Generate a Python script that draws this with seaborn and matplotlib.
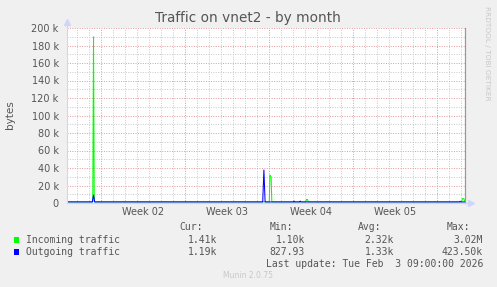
import matplotlib
matplotlib.use("Agg")
import matplotlib.pyplot as plt
import seaborn as sns
import pandas as pd
from matplotlib.patches import Rectangle
from matplotlib.transforms import blended_transform_factory

# ---- data (x = days since Mon 2026-01-05 00:00) ----
incoming_days = [-2.81, -0.66, -0.60, -0.54, 14.05, 14.10, 14.20, 14.26,
                 17.10, 17.14, 17.24, 17.28, 30.08, 30.14, 30.26, 30.36]
incoming_vals = [1400, 1400, 190000, 1400, 1400, 32000, 30000, 1400,
                 1400, 4000, 4000, 1400, 1400, 5000, 5000, 1410]
outgoing_days = [-2.81, -0.70, -0.60, -0.50, 13.50, 13.60, 13.70,
                 16.08, 16.12, 16.16, 16.58, 16.62, 16.66, 29.90, 29.95, 30.00, 30.36]
outgoing_vals = [1200, 1200, 9000, 1200, 1200, 37700, 1200,
                 1200, 2200, 1200, 1200, 2200, 1200, 1200, 2000, 1200, 1190]

series_names = ["Incoming traffic", "Outgoing traffic"]
series_colors = ["#00FF00", "#0000FF"]
cur_vals = ["1.41k", "1.19k"]
min_vals = ["1.10k", "827.93"]
avg_vals = ["2.32k", "1.33k"]
max_vals = ["3.02M", "423.50k"]

y_ticks = [0, 20000, 40000, 60000, 80000, 100000, 120000, 140000, 160000, 180000, 200000]
y_tick_labels = ["0", "20 k", "40 k", "60 k", "80 k", "100 k", "120 k", "140 k", "160 k", "180 k", "200 k"]
week_bounds = [0, 7, 14, 21, 28]
week_label_pos = [3.5, 10.5, 17.5, 24.5]
week_labels = ["Week 02", "Week 03", "Week 04", "Week 05"]
day_lines = list(range(-2, 31))
x_range = (-2.81, 30.36)

title = "Traffic on vnet2 - by month"
last_update = "Last update: Tue Feb  3 09:00:00 2026"

df = pd.concat([
    pd.DataFrame({"day": incoming_days, "bytes": incoming_vals, "series": series_names[0]}),
    pd.DataFrame({"day": outgoing_days, "bytes": outgoing_vals, "series": series_names[1]}),
])

sns.set_theme(style="white")
plt.rcParams["font.family"] = ["DejaVu Sans"]

W, H = 497, 287
fig = plt.figure(figsize=(W / 100, H / 100), dpi=100, facecolor="#F0F0F0")

def fx(x):
    return x / W

def fy(y):
    return 1 - y / H

ax = fig.add_axes([fx(67), fy(203), fx(465) - fx(67), fy(28) - fy(203)])
ax.set_facecolor("white")
ax.set_axisbelow(True)

sns.lineplot(data=df, x="day", y="bytes", hue="series", palette=series_colors,
             hue_order=series_names, estimator=None, sort=False, legend=False,
             linewidth=0.75, ax=ax)
ax.set_xlabel("")
ax.set_ylabel("")

ax.set_xlim(*x_range)
ax.set_ylim(0, 200000)

# grids
ax.set_yticks(y_ticks)
ax.set_yticklabels(y_tick_labels)
ax.set_yticks([v + 10000 for v in y_ticks[:-1]], minor=True)
ax.set_xticks(week_bounds)
ax.set_xticklabels([""] * len(week_bounds))
ax.set_xticks(day_lines, minor=True)
dot = (0, (1, 1.5))
ax.grid(True, which="minor", color="#C8C8C8", linestyle=dot, linewidth=0.7)
ax.grid(True, which="major", color="#E09A9A", linestyle=dot, linewidth=0.7)
ax.tick_params(axis="y", which="both", length=3, width=0.6, color="#BBBBBB",
               labelsize=7, labelcolor="#555555", pad=3)
ax.tick_params(axis="x", which="both", length=2, width=0.6, color="#BBBBBB",
               labelsize=7, labelcolor="#555555")

tr = blended_transform_factory(ax.transData, ax.transAxes)
for p, lab in zip(week_label_pos, week_labels):
    ax.text(p, -0.05, lab, transform=tr, ha="center", va="center",
            fontsize=7, color="#555555")

ax.spines["top"].set_visible(False)
ax.spines["left"].set_color("#CFD6F8")
ax.spines["bottom"].set_color("#CFD6F8")
ax.spines["left"].set_linewidth(0.8)
ax.spines["bottom"].set_linewidth(0.8)
ax.spines["right"].set_color("#999999")
ax.spines["right"].set_linewidth(0.9)

# axis arrows
ax.plot([0, 0], [1.0, 1.03], transform=ax.transAxes, color="#CFD6F8", lw=0.8, clip_on=False)
ax.plot(0, 1.035, marker="^", markersize=4, color="#CFD6F8", transform=ax.transAxes, clip_on=False)
ax.plot([1.0, 1.012], [0, 0], transform=ax.transAxes, color="#CFD6F8", lw=0.8, clip_on=False)
ax.plot(1.015, 0, marker=">", markersize=4, color="#CFD6F8", transform=ax.transAxes, clip_on=False)

# texts
fig.text(fx(248), fy(18), title, ha="center", va="center", fontsize=9.8, color="#555555")
fig.text(fx(10), fy(115), "bytes", ha="center", va="center", rotation=90, fontsize=7.5, color="#555555")
fig.text(fx(487), fy(53), "RRDTOOL / TOBI OETIKER", ha="center", va="center",
         rotation=270, fontsize=5.3, color="#C8C8C8")
fig.text(fx(248), fy(276), "Munin 2.0.75", ha="center", va="center", fontsize=5.5, color="#C8C8C8")

mono = "DejaVu Sans Mono"
hdr_y = 227.5
row_y = [240, 252]
cols = [(203, 217, "Cur:", cur_vals), (293, 305, "Min:", min_vals),
        (381, 394, "Avg:", avg_vals), (470, 483, "Max:", max_vals)]
for hx, vx, head, vals in cols:
    fig.text(fx(hx), fy(hdr_y), head, ha="right", va="center", family=mono, fontsize=7, color="#555555")
    for ry, v in zip(row_y, vals):
        fig.text(fx(vx), fy(ry), v, ha="right", va="center", family=mono, fontsize=7, color="#555555")
for ry, name, col in zip(row_y, series_names, series_colors):
    fig.patches.append(Rectangle((fx(14), fy(ry + 2.5)), fx(5.3), 5.3 / H,
                                 transform=fig.transFigure, facecolor=col, edgecolor="none"))
    fig.text(fx(26.5), fy(ry), name, ha="left", va="center", family=mono, fontsize=7, color="#555555")
fig.text(fx(483), fy(264), last_update, ha="right", va="center", family=mono, fontsize=7, color="#555555")

fig.savefig("out.png", dpi=100, facecolor=fig.get_facecolor())
